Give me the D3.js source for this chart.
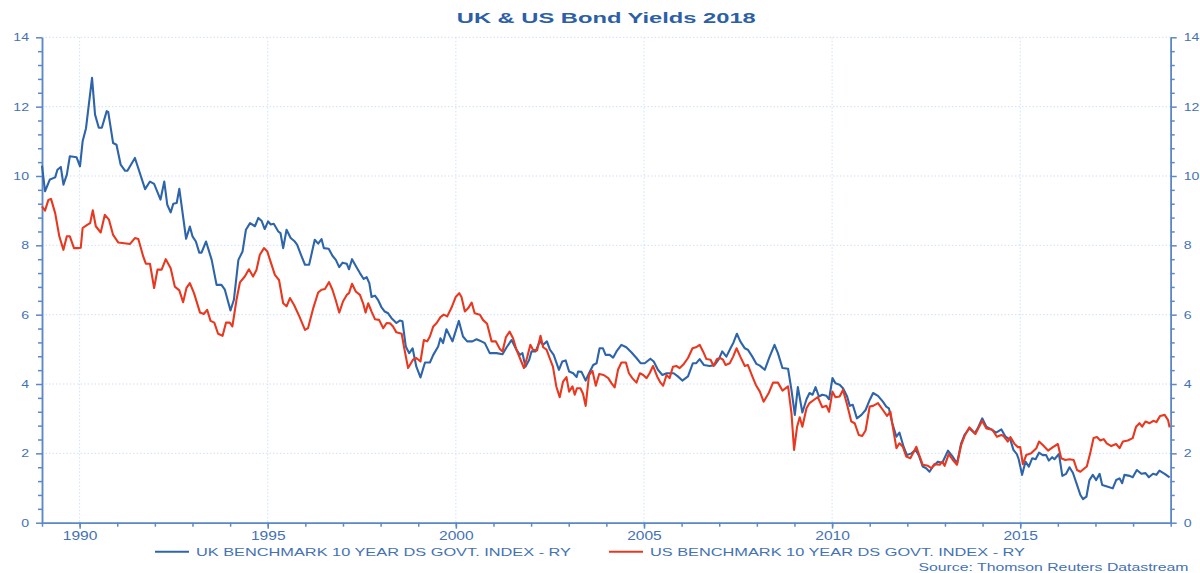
<!DOCTYPE html>
<html lang="en">
<meta charset="utf-8">
<title>UK & US Bond Yields 2018</title>
<style>
    body { margin: 0; background: white; }
    text { font-family: Arial, "Liberation Sans", sans-serif; }
</style>
<body>
<svg id="canvas"></svg>
<script src="https://cdn.jsdelivr.net/npm/d3@7/dist/d3.min.js"></script>
<script>

    ///////////////////// Data ////////////////////////
    // UK benchmark 10 year yield
    var uk_years = [
        1989.00, 1989.08, 1989.21, 1989.35, 1989.41, 1989.50, 1989.57, 1989.66, 1989.74, 1989.92,
        1990.01, 1990.08, 1990.17, 1990.33, 1990.41, 1990.51, 1990.59, 1990.72, 1990.76, 1990.89,
        1990.98, 1991.09, 1991.21, 1991.27, 1991.47, 1991.74, 1991.87, 1991.98, 1992.15, 1992.25,
        1992.33, 1992.42, 1992.49, 1992.58, 1992.65, 1992.83, 1992.93, 1993.00, 1993.09, 1993.18,
        1993.24, 1993.36, 1993.51, 1993.64, 1993.77, 1993.86, 1994.01, 1994.10, 1994.22, 1994.33,
        1994.42, 1994.53, 1994.66, 1994.75, 1994.84, 1994.92, 1995.01, 1995.08, 1995.16, 1995.28,
        1995.34, 1995.41, 1995.50, 1995.61, 1995.72, 1995.78, 1995.90, 1995.99, 1996.10, 1996.25,
        1996.34, 1996.43, 1996.49, 1996.62, 1996.72, 1996.81, 1996.90, 1996.99, 1997.10, 1997.16,
        1997.24, 1997.36, 1997.45, 1997.55, 1997.63, 1997.70, 1997.76, 1997.85, 1997.93, 1998.02,
        1998.11, 1998.20, 1998.29, 1998.42, 1998.51, 1998.58, 1998.67, 1998.76, 1998.85, 1998.95,
        1999.06, 1999.18, 1999.31, 1999.40, 1999.53, 1999.59, 1999.66, 1999.75, 1999.91, 2000.08,
        2000.19, 2000.30, 2000.44, 2000.55, 2000.64, 2000.77, 2000.90, 2001.08, 2001.24, 2001.35,
        2001.48, 2001.61, 2001.70, 2001.77, 2001.85, 2001.95, 2002.01, 2002.12, 2002.23, 2002.32,
        2002.42, 2002.50, 2002.60, 2002.74, 2002.83, 2002.92, 2003.01, 2003.12, 2003.21, 2003.25,
        2003.34, 2003.45, 2003.54, 2003.65, 2003.74, 2003.82, 2003.91, 2003.98, 2004.09, 2004.18,
        2004.27, 2004.40, 2004.53, 2004.67, 2004.80, 2004.91, 2005.02, 2005.17, 2005.26, 2005.37,
        2005.49, 2005.60, 2005.79, 2005.90, 2006.02, 2006.17, 2006.30, 2006.39, 2006.48, 2006.59,
        2006.75, 2006.88, 2006.99, 2007.08, 2007.19, 2007.30, 2007.38, 2007.47, 2007.56, 2007.68,
        2007.76, 2007.88, 2007.99, 2008.08, 2008.21, 2008.34, 2008.47, 2008.56, 2008.68, 2008.83,
        2008.92, 2009.01, 2009.09, 2009.21, 2009.32, 2009.40, 2009.48, 2009.56, 2009.65, 2009.74,
        2009.85, 2009.92, 2010.01, 2010.09, 2010.20, 2010.29, 2010.40, 2010.47, 2010.55, 2010.66,
        2010.78, 2010.89, 2011.00, 2011.09, 2011.22, 2011.35, 2011.44, 2011.51, 2011.60, 2011.71,
        2011.79, 2011.90, 2011.99, 2012.11, 2012.22, 2012.31, 2012.41, 2012.50, 2012.59, 2012.68,
        2012.81, 2012.93, 2013.08, 2013.19, 2013.32, 2013.43, 2013.52, 2013.65, 2013.79, 2013.87,
        2013.99, 2014.10, 2014.23, 2014.36, 2014.50, 2014.61, 2014.74, 2014.82, 2014.91, 2014.96,
        2015.05, 2015.14, 2015.23, 2015.32, 2015.41, 2015.50, 2015.60, 2015.69, 2015.76, 2015.85,
        2015.91, 2016.03, 2016.12, 2016.22, 2016.31, 2016.40, 2016.51, 2016.60, 2016.67, 2016.76,
        2016.84, 2016.93, 2017.02, 2017.11, 2017.18, 2017.33, 2017.46, 2017.55, 2017.64, 2017.71,
        2017.77, 2017.91, 2017.99, 2018.10, 2018.22, 2018.33, 2018.42, 2018.53, 2018.62, 2018.70,
        2018.84, 2018.97
    ];
    var uk_yield = [
        10.30, 9.56, 9.90, 9.96, 10.18, 10.26, 9.75, 10.04, 10.57, 10.54,
        10.28, 11.00, 11.38, 12.83, 11.77, 11.39, 11.39, 11.87, 11.85, 10.95,
        10.90, 10.33, 10.15, 10.15, 10.52, 9.62, 9.84, 9.77, 9.32, 9.84,
        9.17, 8.95, 9.20, 9.22, 9.63, 8.19, 8.54, 8.26, 8.11, 7.79,
        7.79, 8.11, 7.58, 6.86, 6.86, 6.72, 6.12, 6.43, 7.58, 7.82,
        8.45, 8.64, 8.55, 8.79, 8.70, 8.47, 8.69, 8.60, 8.62, 8.40,
        8.35, 7.92, 8.45, 8.21, 8.11, 8.02, 7.68, 7.44, 7.44, 8.16,
        8.05, 8.18, 7.92, 7.90, 7.70, 7.58, 7.37, 7.50, 7.47, 7.31,
        7.60, 7.37, 7.20, 7.03, 7.08, 6.91, 6.51, 6.55, 6.43, 6.22,
        6.09, 6.04, 5.90, 5.76, 5.83, 5.81, 5.08, 4.89, 5.03, 4.50,
        4.19, 4.62, 4.62, 4.84, 5.08, 5.32, 5.18, 5.58, 5.23, 5.82,
        5.37, 5.23, 5.23, 5.29, 5.25, 5.18, 4.89, 4.89, 4.86, 5.06,
        5.27, 4.99, 4.84, 4.89, 4.50, 4.70, 4.94, 4.94, 5.23, 5.13,
        5.23, 4.99, 4.84, 4.41, 4.65, 4.68, 4.36, 4.31, 4.20, 4.36,
        4.35, 4.10, 4.31, 4.55, 4.60, 5.03, 5.03, 4.84, 4.84, 4.76,
        4.94, 5.13, 5.06, 4.91, 4.75, 4.60, 4.60, 4.73, 4.65, 4.41,
        4.26, 4.31, 4.31, 4.22, 4.10, 4.22, 4.60, 4.60, 4.72, 4.55,
        4.52, 4.55, 4.72, 4.94, 4.79, 5.03, 5.20, 5.45, 5.23, 5.03,
        4.99, 4.79, 4.58, 4.53, 4.41, 4.79, 5.13, 4.89, 4.46, 4.44,
        3.83, 3.11, 3.91, 3.18, 3.56, 3.74, 3.69, 3.91, 3.64, 3.69,
        3.66, 3.56, 4.17, 4.02, 3.98, 3.88, 3.64, 3.37, 3.40, 3.01,
        3.11, 3.25, 3.54, 3.74, 3.66, 3.49, 3.35, 3.30, 2.87, 2.48,
        2.60, 2.19, 1.95, 2.00, 2.10, 1.93, 1.62, 1.57, 1.47, 1.62,
        1.76, 1.73, 2.08, 1.93, 1.71, 2.29, 2.53, 2.72, 2.58, 2.72,
        3.01, 2.77, 2.69, 2.60, 2.69, 2.48, 2.39, 2.10, 1.98, 1.83,
        1.38, 1.76, 1.62, 1.86, 1.83, 2.02, 1.95, 1.95, 1.79, 1.89,
        1.83, 1.98, 1.35, 1.41, 1.60, 1.44, 1.09, 0.80, 0.68, 0.75,
        1.23, 1.38, 1.23, 1.41, 1.09, 1.04, 0.99, 1.23, 1.28, 1.14,
        1.38, 1.35, 1.31, 1.52, 1.41, 1.43, 1.31, 1.41, 1.38, 1.50,
        1.41, 1.31
    ];

    // US benchmark 10 year yield
    var us_years = [
        1989.00, 1989.08, 1989.17, 1989.24, 1989.35, 1989.46, 1989.57, 1989.66, 1989.74, 1989.85,
        1989.96, 1990.03, 1990.08, 1990.20, 1990.28, 1990.35, 1990.43, 1990.56, 1990.67, 1990.78,
        1990.89, 1991.03, 1991.34, 1991.47, 1991.56, 1991.69, 1991.76, 1991.87, 1991.98, 1992.07,
        1992.18, 1992.29, 1992.42, 1992.53, 1992.65, 1992.75, 1992.84, 1992.93, 1993.04, 1993.20,
        1993.30, 1993.39, 1993.48, 1993.58, 1993.68, 1993.80, 1993.89, 1993.99, 1994.06, 1994.17,
        1994.26, 1994.39, 1994.50, 1994.61, 1994.70, 1994.79, 1994.90, 1994.99, 1995.06, 1995.19,
        1995.30, 1995.41, 1995.50, 1995.59, 1995.70, 1995.84, 1995.99, 1996.07, 1996.21, 1996.34,
        1996.43, 1996.52, 1996.63, 1996.72, 1996.81, 1996.90, 1997.00, 1997.10, 1997.16, 1997.24,
        1997.34, 1997.45, 1997.54, 1997.60, 1997.67, 1997.76, 1997.85, 1997.96, 1998.07, 1998.16,
        1998.25, 1998.33, 1998.42, 1998.56, 1998.62, 1998.73, 1998.86, 1998.95, 1999.06, 1999.15,
        1999.24, 1999.31, 1999.40, 1999.49, 1999.59, 1999.68, 1999.77, 1999.88, 2000.00, 2000.09,
        2000.15, 2000.24, 2000.33, 2000.42, 2000.50, 2000.64, 2000.72, 2000.83, 2000.95, 2001.06,
        2001.17, 2001.24, 2001.33, 2001.43, 2001.52, 2001.61, 2001.72, 2001.81, 2001.89, 2001.98,
        2002.05, 2002.16, 2002.25, 2002.32, 2002.41, 2002.51, 2002.58, 2002.67, 2002.76, 2002.85,
        2002.94, 2003.01, 2003.10, 2003.16, 2003.22, 2003.31, 2003.38, 2003.45, 2003.54, 2003.63,
        2003.72, 2003.81, 2003.93, 2004.05, 2004.14, 2004.22, 2004.31, 2004.40, 2004.52, 2004.60,
        2004.69, 2004.80, 2004.89, 2004.98, 2005.07, 2005.15, 2005.24, 2005.35, 2005.44, 2005.51,
        2005.60, 2005.68, 2005.77, 2005.86, 2005.95, 2006.06, 2006.17, 2006.29, 2006.38, 2006.48,
        2006.57, 2006.66, 2006.77, 2006.85, 2006.94, 2007.03, 2007.10, 2007.17, 2007.28, 2007.37,
        2007.46, 2007.56, 2007.68, 2007.76, 2007.88, 2007.97, 2008.08, 2008.18, 2008.32, 2008.43,
        2008.56, 2008.68, 2008.83, 2008.92, 2008.99, 2009.07, 2009.14, 2009.21, 2009.32, 2009.40,
        2009.54, 2009.62, 2009.74, 2009.85, 2009.92, 2010.01, 2010.09, 2010.20, 2010.29, 2010.40,
        2010.51, 2010.60, 2010.71, 2010.80, 2010.89, 2011.00, 2011.09, 2011.22, 2011.35, 2011.46,
        2011.55, 2011.62, 2011.71, 2011.79, 2011.88, 2011.97, 2012.08, 2012.24, 2012.33, 2012.41,
        2012.55, 2012.64, 2012.72, 2012.86, 2012.93, 2012.99, 2013.10, 2013.21, 2013.32, 2013.43,
        2013.52, 2013.65, 2013.81, 2013.90, 2013.99, 2014.10, 2014.26, 2014.38, 2014.50, 2014.56,
        2014.67, 2014.74, 2014.85, 2014.94, 2015.00, 2015.07, 2015.16, 2015.29, 2015.43, 2015.50,
        2015.60, 2015.74, 2015.87, 2016.00, 2016.09, 2016.20, 2016.31, 2016.42, 2016.51, 2016.60,
        2016.71, 2016.77, 2016.86, 2016.95, 2017.04, 2017.13, 2017.22, 2017.30, 2017.42, 2017.55,
        2017.64, 2017.73, 2017.86, 2017.99, 2018.08, 2018.17, 2018.24, 2018.33, 2018.44, 2018.54,
        2018.62, 2018.72, 2018.84, 2018.93, 2018.97
    ];
    var us_yield = [
        9.12, 9.00, 9.31, 9.34, 8.93, 8.26, 7.87, 8.26, 8.26, 7.92,
        7.92, 7.93, 8.50, 8.59, 8.64, 9.01, 8.55, 8.37, 8.88, 8.74,
        8.30, 8.08, 8.04, 8.21, 8.18, 7.68, 7.47, 7.47, 6.77, 7.30,
        7.30, 7.60, 7.34, 6.81, 6.70, 6.36, 6.77, 6.91, 6.62, 6.06,
        6.02, 6.14, 5.82, 5.77, 5.45, 5.39, 5.77, 5.77, 5.66, 6.43,
        6.93, 7.10, 7.31, 7.10, 7.29, 7.73, 7.92, 7.82, 7.58, 7.15,
        7.00, 6.33, 6.24, 6.48, 6.28, 5.95, 5.56, 5.61, 6.19, 6.64,
        6.72, 6.74, 6.94, 6.72, 6.41, 6.06, 6.38, 6.57, 6.62, 6.89,
        6.67, 6.57, 6.31, 6.06, 6.33, 6.09, 5.87, 5.85, 5.61, 5.76,
        5.75, 5.66, 5.49, 5.45, 5.08, 4.46, 4.70, 4.75, 4.65, 5.27,
        5.23, 5.37, 5.66, 5.76, 5.93, 6.00, 5.95, 6.19, 6.52, 6.62,
        6.51, 6.09, 6.19, 6.35, 6.04, 6.00, 5.85, 5.74, 5.23, 5.23,
        5.01, 4.94, 5.35, 5.51, 5.32, 4.99, 4.70, 4.46, 4.75, 5.13,
        4.99, 4.97, 5.39, 5.06, 4.99, 4.70, 4.50, 3.93, 3.62, 4.07,
        4.20, 3.78, 3.93, 3.69, 3.88, 3.88, 3.72, 3.37, 4.26, 4.38,
        3.95, 4.29, 4.26, 4.17, 4.02, 3.90, 4.41, 4.62, 4.62, 4.31,
        4.17, 4.04, 4.31, 4.26, 4.17, 4.31, 4.52, 4.22, 4.04, 3.95,
        4.26, 4.17, 4.50, 4.52, 4.46, 4.58, 4.75, 5.03, 5.06, 5.13,
        4.94, 4.72, 4.70, 4.52, 4.72, 4.75, 4.70, 4.55, 4.60, 4.79,
        5.03, 4.79, 4.52, 4.55, 4.22, 3.98, 3.78, 3.49, 3.75, 4.04,
        4.04, 3.81, 3.93, 3.16, 2.10, 2.77, 3.04, 2.77, 3.30, 3.45,
        3.56, 3.62, 3.33, 3.37, 3.20, 3.78, 3.62, 3.64, 3.83, 3.40,
        2.92, 2.87, 2.53, 2.50, 2.66, 3.35, 3.37, 3.45, 3.25, 3.08,
        3.20, 2.72, 2.15, 2.29, 2.19, 1.91, 1.86, 2.19, 1.91, 1.67,
        1.64, 1.57, 1.69, 1.67, 1.76, 1.64, 1.98, 1.81, 1.67, 2.24,
        2.50, 2.75, 2.56, 2.75, 2.94, 2.72, 2.68, 2.48, 2.53, 2.50,
        2.34, 2.47, 2.27, 2.18, 2.18, 1.69, 1.95, 2.00, 2.15, 2.34,
        2.24, 2.08, 2.18, 2.27, 1.86, 1.81, 1.83, 1.81, 1.52, 1.47,
        1.57, 1.62, 2.00, 2.44, 2.47, 2.37, 2.41, 2.29, 2.21, 2.27,
        2.15, 2.34, 2.37, 2.44, 2.77, 2.87, 2.77, 2.92, 2.87, 2.94,
        2.90, 3.08, 3.11, 2.96, 2.75
    ];

    // axis ticks
    var y_major      = [0, 2, 4, 6, 8, 10, 12, 14];
    var y_minor      = d3.range(0, 14.01, 0.4).filter(function (v) {
                           return Math.abs(v / 2 - Math.round(v / 2)) > 0.01; });
    var x_major      = [1990, 1995, 2000, 2005, 2010, 2015];
    var x_minor      = d3.range(1989, 2020);
    ///////////////////////////////////////////////////

    //////////////// String Variables /////////////////
    var title_text   = "UK & US Bond Yields 2018";
    var uk_label     = "UK BENCHMARK 10 YEAR DS GOVT. INDEX - RY";
    var us_label     = "US BENCHMARK 10 YEAR DS GOVT. INDEX - RY";
    var source_text  = "Source: Thomson Reuters Datastream";
    ///////////////////////////////////////////////////

    ///////// Position and Dimension Variables ////////
    var dimensions   = [1200, 573];
    var plot_left    = 42;
    var plot_right   = 1170.7;
    var plot_top     = 37.3;
    var plot_bottom  = 522.7;
    ///////////////////////////////////////////////////

    ///////////////// Style Variables /////////////////
    var uk_color     = '#2e64a9';
    var us_color     = '#e8381f';
    var axis_color   = '#5b88c6';
    var text_color   = '#4472b4';
    var title_color  = '#2c5fa8';
    var grid_color   = '#cfe2f6';
    ///////////////////////////////////////////////////

    // the original picture is stretched sideways, so text is too
    function stretch(sel, width) {
        sel.attr('textLength', width).attr('lengthAdjust', 'spacingAndGlyphs');
    }

    //////////////////// BG layer /////////////////////
    var canvas = d3.select("#canvas")
        .attr('width',  dimensions[0])
        .attr('height', dimensions[1])
        .style('background-color', 'white');

    var x = d3.scaleLinear().domain([1989, 2019]).range([plot_left, plot_right]);
    var y = d3.scaleLinear().domain([0, 14]).range([plot_bottom, plot_top]);
    ///////////////////////////////////////////////////

    ////////////////////// grid ///////////////////////
    var grid = canvas.append('g')
        .attr('stroke', grid_color)
        .attr('stroke-width', 1)
        .attr('stroke-dasharray', '1.5,2');
    grid.selectAll('line.h').data(y_major.slice(1)).enter().append('line')
        .attr('x1', plot_left).attr('x2', plot_right)
        .attr('y1', function (d) { return y(d); })
        .attr('y2', function (d) { return y(d); });
    grid.selectAll('line.v').data(x_major).enter().append('line')
        .attr('y1', plot_top).attr('y2', plot_bottom)
        .attr('x1', function (d) { return x(d); })
        .attr('x2', function (d) { return x(d); });
    ///////////////////////////////////////////////////

    ////////////////////// axes ///////////////////////
    function style_axis(g) {
        g.selectAll('path, line').attr('stroke', axis_color).attr('stroke-width', 1.5);
        g.selectAll('text').attr('fill', text_color).style('font-family', 'Arial, "Liberation Sans", sans-serif');
    }

    var left_axis = canvas.append('g')
        .attr('transform', 'translate(' + plot_left + ',0)')
        .call(d3.axisLeft(y).tickValues(y_major).tickSize(6).tickSizeOuter(0).tickPadding(7));
    canvas.append('g')
        .attr('transform', 'translate(' + plot_left + ',0)')
        .call(d3.axisLeft(y).tickValues(y_minor).tickSize(4).tickSizeOuter(0).tickFormat(''))
        .call(style_axis);
    left_axis.call(style_axis);

    var right_axis = canvas.append('g')
        .attr('transform', 'translate(' + plot_right + ',0)')
        .call(d3.axisRight(y).tickValues(y_major).tickSize(6).tickSizeOuter(0).tickPadding(7));
    canvas.append('g')
        .attr('transform', 'translate(' + plot_right + ',0)')
        .call(d3.axisRight(y).tickValues(y_minor).tickSize(4).tickSizeOuter(0).tickFormat(''))
        .call(style_axis);
    right_axis.call(style_axis);

    [left_axis, right_axis].forEach(function (ax) {
        ax.selectAll('text')
            .attr('font-size', 11)
            .each(function (d) { stretch(d3.select(this), String(d).length * 7.85); });
    });

    var bottom_axis = canvas.append('g')
        .attr('transform', 'translate(0,' + plot_bottom + ')')
        .call(d3.axisBottom(x).tickValues(x_major).tickSize(6).tickSizeOuter(0)
                .tickPadding(3).tickFormat(d3.format('d')));
    canvas.append('g')
        .attr('transform', 'translate(0,' + plot_bottom + ')')
        .call(d3.axisBottom(x).tickValues(x_minor).tickSize(4).tickSizeOuter(0).tickFormat(''))
        .call(style_axis);
    bottom_axis.call(style_axis);
    bottom_axis.selectAll('text')
        .attr('font-size', 12)
        .each(function () { stretch(d3.select(this), 34.6); });
    ///////////////////////////////////////////////////

    ///////////////////// series //////////////////////
    var line = d3.line()
        .x(function (d) { return x(d[0]); })
        .y(function (d) { return y(d[1]); });

    canvas.append('path')
        .datum(d3.zip(uk_years, uk_yield))
        .attr('d', line)
        .attr('fill', 'none')
        .attr('stroke', uk_color)
        .attr('stroke-width', 2.1)
        .attr('stroke-linejoin', 'round');
    canvas.append('path')
        .datum(d3.zip(us_years, us_yield))
        .attr('d', line)
        .attr('fill', 'none')
        .attr('stroke', us_color)
        .attr('stroke-width', 2.1)
        .attr('stroke-linejoin', 'round');
    ///////////////////////////////////////////////////

    ///////////////////// title ///////////////////////
    canvas.append('text')
        .attr('x', 606.3)
        .attr('y', 23.3)
        .attr('text-anchor', 'middle')
        .attr('font-size', 15)
        .attr('font-weight', 'bold')
        .attr('fill', title_color)
        .text(title_text)
        .call(stretch, 299);
    ///////////////////////////////////////////////////

    ///////////////////// legend //////////////////////
    var legend = [
        { label: uk_label, color: uk_color, x: 155, text_x: 196 },
        { label: us_label, color: us_color, x: 609, text_x: 650 }
    ];
    legend.forEach(function (item) {
        canvas.append('line')
            .attr('x1', item.x).attr('x2', item.x + 34)
            .attr('y1', 551.7).attr('y2', 551.7)
            .attr('stroke', item.color)
            .attr('stroke-width', 2);
        canvas.append('text')
            .attr('x', item.text_x)
            .attr('y', 555.7)
            .attr('font-size', 11)
            .attr('fill', text_color)
            .text(item.label)
            .call(stretch, 375);
    });

    canvas.append('text')
        .attr('x', 1188.5)
        .attr('y', 571)
        .attr('text-anchor', 'end')
        .attr('font-size', 11)
        .attr('fill', text_color)
        .text(source_text)
        .call(stretch, 270);
    ///////////////////////////////////////////////////

</script>
</body>
</html>
